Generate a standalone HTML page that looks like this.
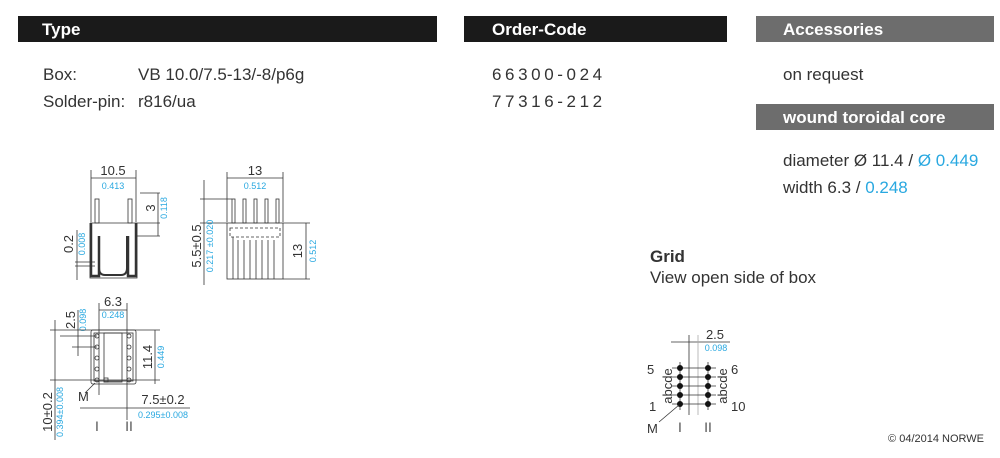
<!DOCTYPE html>
<html><head><meta charset="utf-8"><style>
html,body{margin:0;padding:0;background:#fff;width:1000px;height:458px;overflow:hidden}
svg{display:block}
text{font-family:"Liberation Sans",sans-serif}
.h{fill:#fff;font-weight:bold;font-size:17px}
.t{fill:#333;font-size:17px}
.b{fill:#29a8e0}
.d{fill:#333;font-size:13px}
.s{fill:#29a8e0;font-size:9px}
.l{stroke:#333;stroke-width:0.8;fill:none}
.g{stroke:#aaa;stroke-width:0.8;fill:none}
</style></head><body>
<svg width="1000" height="458" viewBox="0 0 1000 458">
<rect x="18" y="16" width="419" height="26" fill="#1a1a1a"/>
<text class="h" x="42" y="35">Type</text>
<rect x="464" y="16" width="263" height="26" fill="#1a1a1a"/>
<text class="h" x="492" y="35">Order-Code</text>
<rect x="756" y="16" width="238" height="26" fill="#6d6d6d"/>
<text class="h" x="783" y="35">Accessories</text>
<rect x="756" y="104" width="238" height="26" fill="#6d6d6d"/>
<text class="h" x="783" y="123">wound toroidal core</text>

<text class="t" x="43" y="80">Box:</text>
<text class="t" x="138" y="80">VB 10.0/7.5-13/-8/p6g</text>
<text class="t" x="43" y="107">Solder-pin:</text>
<text class="t" x="138" y="107">r816/ua</text>
<text class="t" x="492" y="80" letter-spacing="3.6">66300-024</text>
<text class="t" x="492" y="107" letter-spacing="3.6">77316-212</text>
<text class="t" x="783" y="80">on request</text>
<text class="t" x="783" y="166">diameter  Ø 11.4 / <tspan class="b">Ø 0.449</tspan></text>
<text class="t" x="783" y="193">width 6.3 / <tspan class="b">0.248</tspan></text>

<text class="t" x="650" y="262" font-weight="bold">Grid</text>
<text class="t" x="650" y="283">View open side of box</text>
<text x="984" y="442" text-anchor="end" fill="#333" font-size="11">© 04/2014 NORWE</text>

<!-- drawing 1 -->
<g>
<line class="l" x1="91" y1="170" x2="91" y2="222"/><line class="l" x1="136" y1="170" x2="136" y2="222"/>
<line class="l" x1="91" y1="178" x2="136" y2="178"/>
<text class="d" x="113" y="175" text-anchor="middle">10.5</text>
<text class="s" x="113" y="189" text-anchor="middle">0.413</text>
<rect x="95" y="199" width="4" height="24" class="l"/><rect x="128" y="199" width="4" height="24" class="l"/>
<path d="M90 223 H137 M90 223 V278 H137 V223" class="l"/>
<path d="M91 223 V276 H99 V236 M136 223 V276 H128 V236" stroke="#333" stroke-width="2.5" fill="none"/>
<path d="M99 236 V268 Q99 275 105 275 H121 Q127 275 127 268 V236" stroke="#333" stroke-width="2" fill="none"/>
<line class="l" x1="137" y1="223" x2="160" y2="223"/><line class="l" x1="137" y1="236" x2="160" y2="236"/><line class="l" x1="140" y1="193" x2="160" y2="193"/>
<line class="l" x1="158" y1="193" x2="158" y2="236"/>
<text class="d" transform="translate(155,208) rotate(-90)" text-anchor="middle">3</text>
<text class="s" transform="translate(167,208) rotate(-90)" text-anchor="middle">0.118</text>
<line class="l" x1="75" y1="262" x2="95" y2="262"/><line class="l" x1="75" y1="266" x2="95" y2="266"/>
<line class="l" x1="77" y1="230" x2="77" y2="280"/>
<text class="d" transform="translate(73,244) rotate(-90)" text-anchor="middle">0.2</text>
<text class="s" transform="translate(85,244) rotate(-90)" text-anchor="middle">0.008</text>
</g>

<!-- drawing 2 -->
<g>
<line class="l" x1="227" y1="172" x2="227" y2="222"/><line class="l" x1="283" y1="172" x2="283" y2="222"/>
<line class="l" x1="227" y1="178" x2="283" y2="178"/>
<text class="d" x="255" y="175" text-anchor="middle">13</text>
<text class="s" x="255" y="189" text-anchor="middle">0.512</text>
<g class="l"><rect x="232" y="199" width="3" height="24"/><rect x="243" y="199" width="3" height="24"/><rect x="254" y="199" width="3" height="24"/><rect x="265" y="199" width="3" height="24"/><rect x="276" y="199" width="3" height="24"/></g>
<rect x="227" y="223" width="56" height="56" class="l"/>
<rect x="230" y="228" width="50" height="9" class="l" stroke-dasharray="3,2"/>
<path class="l" d="M233 237 V279 M238 240 V279 M244 240 V279 M250 240 V279 M256 240 V279 M262 240 V279 M268 240 V279 M274 240 V279"/>
<line class="l" x1="200" y1="199" x2="232" y2="199"/><line class="l" x1="200" y1="223" x2="227" y2="223"/>
<line class="l" x1="204" y1="180" x2="204" y2="285"/>
<text class="d" transform="translate(201,246) rotate(-90)" text-anchor="middle">5.5±0.5</text>
<text class="s" transform="translate(213,246) rotate(-90)" text-anchor="middle">0.217 ±0.020</text>
<line class="l" x1="283" y1="223" x2="310" y2="223"/><line class="l" x1="283" y1="279" x2="310" y2="279"/>
<line class="l" x1="306" y1="223" x2="306" y2="279"/>
<text class="d" transform="translate(302,251) rotate(-90)" text-anchor="middle">13</text>
<text class="s" transform="translate(316,251) rotate(-90)" text-anchor="middle">0.512</text>
</g>

<!-- drawing 3 -->
<g>
<rect x="91" y="330" width="45" height="54" rx="2" class="l"/>
<rect x="94" y="333" width="39" height="48" class="l"/>
<rect x="104" y="333" width="18" height="49" class="l"/>
<rect x="104" y="378" width="4" height="4" class="l"/>
<g class="l"><circle cx="97" cy="336" r="2"/><circle cx="97" cy="347" r="2"/><circle cx="97" cy="358" r="2"/><circle cx="97" cy="369" r="2"/><circle cx="97" cy="380" r="2"/>
<circle cx="129" cy="336" r="2"/><circle cx="129" cy="347" r="2"/><circle cx="129" cy="358" r="2"/><circle cx="129" cy="369" r="2"/><circle cx="129" cy="380" r="2"/></g>
<line class="l" x1="99" y1="303" x2="99" y2="395"/><line class="l" x1="127" y1="303" x2="127" y2="420"/>
<line class="l" x1="99" y1="310" x2="127" y2="310"/>
<text class="d" x="113" y="306" text-anchor="middle">6.3</text>
<text class="s" x="113" y="318" text-anchor="middle">0.248</text>
<line class="l" x1="60" y1="336" x2="97" y2="336"/><line class="l" x1="72" y1="347" x2="97" y2="347"/>
<line class="l" x1="78" y1="310" x2="78" y2="356"/>
<text class="d" transform="translate(75,320) rotate(-90)" text-anchor="middle">2.5</text>
<text class="s" transform="translate(86,320) rotate(-90)" text-anchor="middle">0.098</text>
<line class="l" x1="50" y1="330" x2="160" y2="330"/><line class="l" x1="50" y1="380" x2="160" y2="380"/>
<line class="l" x1="155" y1="330" x2="155" y2="384"/>
<text class="d" transform="translate(152,357) rotate(-90)" text-anchor="middle">11.4</text>
<text class="s" transform="translate(164,357) rotate(-90)" text-anchor="middle">0.449</text>
<line class="l" x1="55" y1="320" x2="55" y2="440"/>
<text class="d" transform="translate(52,412) rotate(-90)" text-anchor="middle">10±0.2</text>
<text class="s" transform="translate(63,412) rotate(-90)" text-anchor="middle">0.394±0.008</text>
<line class="l" x1="80" y1="408" x2="190" y2="408"/>
<text class="d" x="163" y="404" text-anchor="middle">7.5±0.2</text>
<text class="s" x="163" y="418" text-anchor="middle">0.295±0.008</text>
<line class="l" x1="85" y1="393" x2="95" y2="383"/>
<text class="d" x="78" y="401">M</text>
<text x="97" y="431" font-family="Liberation Serif" font-size="14" fill="#555" text-anchor="middle">I</text>
<text x="129" y="431" font-family="Liberation Serif" font-size="14" fill="#555" text-anchor="middle">II</text>
</g>

<!-- grid -->
<g>
<line class="l" x1="671" y1="342" x2="730" y2="342"/>
<text class="d" x="715" y="339" text-anchor="middle">2.5</text>
<text class="s" x="716" y="351" text-anchor="middle">0.098</text>
<line class="l" x1="689" y1="335" x2="689" y2="415"/><line class="g" x1="698" y1="335" x2="698" y2="415"/>
<g class="l"><line x1="672" y1="368" x2="716" y2="368"/><line x1="672" y1="377" x2="716" y2="377"/><line x1="672" y1="386" x2="716" y2="386"/><line x1="672" y1="395" x2="716" y2="395"/><line x1="672" y1="404" x2="716" y2="404"/>
<line x1="680" y1="362" x2="680" y2="410"/><line x1="708" y1="362" x2="708" y2="410"/></g>
<g fill="#111"><circle cx="680" cy="368" r="3"/><circle cx="680" cy="377" r="3"/><circle cx="680" cy="386" r="3"/><circle cx="680" cy="395" r="3"/><circle cx="680" cy="404" r="3"/>
<circle cx="708" cy="368" r="3"/><circle cx="708" cy="377" r="3"/><circle cx="708" cy="386" r="3"/><circle cx="708" cy="395" r="3"/><circle cx="708" cy="404" r="3"/></g>
<text class="d" x="647" y="374" font-size="14">5</text><text class="d" x="649" y="411" font-size="14">1</text>
<text class="d" x="731" y="374" font-size="14">6</text><text class="d" x="731" y="411" font-size="14">10</text>
<text class="d" transform="translate(672,386) rotate(-90)" text-anchor="middle" font-size="14">abcde</text>
<text class="d" transform="translate(727,386) rotate(-90)" text-anchor="middle" font-size="14">abcde</text>
<line class="l" x1="659" y1="422" x2="679" y2="405"/>
<text class="d" x="647" y="433" font-size="14">M</text>
<text x="680" y="432" font-family="Liberation Serif" font-size="14" fill="#555" text-anchor="middle">I</text>
<text x="708" y="432" font-family="Liberation Serif" font-size="14" fill="#555" text-anchor="middle">II</text>
</g>
</svg>
</body></html>
